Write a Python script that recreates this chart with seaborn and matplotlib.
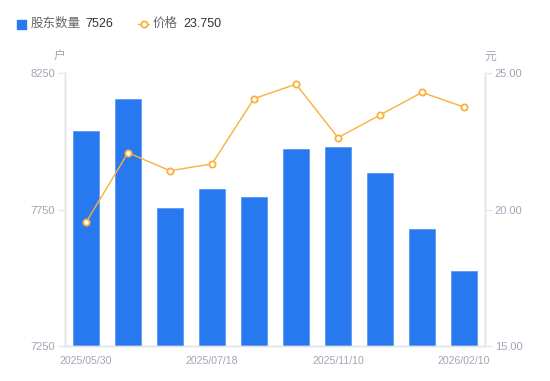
import matplotlib
matplotlib.use("Agg")
import matplotlib.pyplot as plt
import seaborn as sns
import numpy as np
import pandas as pd
from matplotlib.patches import Rectangle
from matplotlib.lines import Line2D

# ---- data ----
categories = ["2025/05/30", "c2", "c3", "2025/07/18", "c5", "c6",
              "2025/11/10", "c8", "c9", "2026/02/10"]
tick_labels = ["2025/05/30", "", "", "2025/07/18", "", "",
               "2025/11/10", "", "", "2026/02/10"]
holders = [8038, 8155, 7756, 7825, 7796, 7972, 7979, 7884, 7679, 7526]
price = [19.53, 22.08, 21.42, 21.67, 24.06, 24.59, 22.63, 23.46, 24.29, 23.75]

BLUE = "#2878F0"
ORANGE = "#FBB03B"
GRAY = "#A2A5B5"
SPINE = "#E3E4E8"

sns.set_theme(style="white")
plt.rcParams["font.family"] = ["Liberation Sans", "Noto Sans CJK SC", "DejaVu Sans"]

fig = plt.figure(figsize=(5.5, 3.81), dpi=100)
ax = fig.add_axes([65/550, 1-346/381, 420/550, 273/381])

df = pd.DataFrame({"cat": categories, "holders": holders, "price": price})
sns.barplot(data=df, x="cat", y="holders", color=BLUE, saturation=1,
            width=0.6, ax=ax, edgecolor="#5A9BF5", linewidth=0.6)
ax.set_ylim(7250, 8250)
ax.set_xlim(-0.5, len(categories) - 0.5)
ax.set_yticks([7250, 7750, 8250])
ax.set_xticks(range(len(categories)))
ax.set_xticklabels(tick_labels)
ax.set_xlabel("")
ax.set_ylabel("")

ax2 = ax.twinx()
sns.lineplot(x=np.arange(len(price)), y=price, ax=ax2, color=ORANGE,
             linewidth=1, marker="o", markersize=4.5, markerfacecolor="white",
             markeredgecolor=ORANGE, markeredgewidth=1.3)
ax2.set_ylim(15, 25)
ax2.set_yticks([15, 20, 25])
ax2.set_yticklabels(["15.00", "20.00", "25.00"])
ax2.set_xlim(-0.5, len(categories) - 0.5)

for a in (ax, ax2):
    a.spines["top"].set_visible(False)
    for s in ("left", "right", "bottom"):
        a.spines[s].set_color(SPINE)
        a.spines[s].set_linewidth(1)
    a.grid(False)

ax.tick_params(axis="y", which="both", left=True, length=5, width=0.8,
               color=SPINE, labelcolor=GRAY, labelsize=8, pad=2)
ax.tick_params(axis="x", bottom=False, labelcolor=GRAY, labelsize=7.6, pad=1)
ax2.tick_params(axis="y", right=True, length=5, width=0.8, color=SPINE,
                labelcolor=GRAY, labelsize=8, pad=2)

# axis unit labels
fig.text(60/550, 1-57/381, "户", ha="center", va="center", fontsize=8.5, color=GRAY)
fig.text(490/550, 1-57/381, "元", ha="center", va="center", fontsize=8.5, color=GRAY)

# legend
ly = 1 - 24/381
fig.add_artist(Rectangle((17/550, 1-28.5/381), 8.5/550, 8.5/381,
                         transform=fig.transFigure, color=BLUE))
fig.text(31/550, ly, "股东数量", ha="left", va="center", fontsize=9, color="#666666")
fig.text(85/550, ly, "7526", ha="left", va="center", fontsize=9, color="#333333")
fig.add_artist(Line2D([138/550, 149/550], [ly, ly], transform=fig.transFigure,
                      color=ORANGE, linewidth=1))
fig.add_artist(Line2D([143.5/550], [ly], transform=fig.transFigure, marker="o",
                      markersize=4.5, markerfacecolor="white",
                      markeredgecolor=ORANGE, markeredgewidth=1.3))
fig.text(153/550, ly, "价格", ha="left", va="center", fontsize=9, color="#666666")
fig.text(183/550, ly, "23.750", ha="left", va="center", fontsize=9, color="#333333")

fig.savefig("out.png", dpi=100)
